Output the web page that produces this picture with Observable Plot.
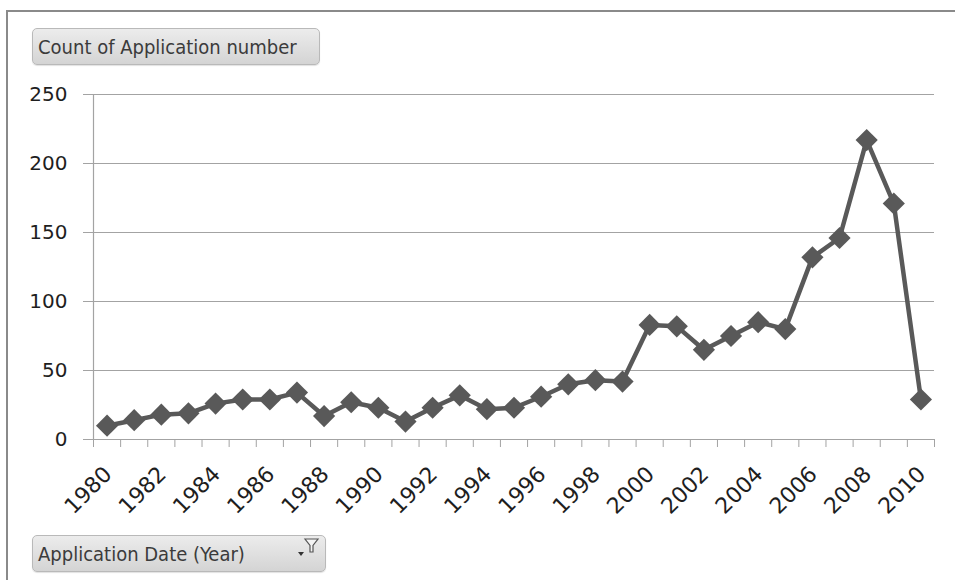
<!DOCTYPE html>
<html>
<head>
<meta charset="utf-8">
<script src="https://cdn.jsdelivr.net/npm/d3@7"></script>
<script src="https://cdn.jsdelivr.net/npm/@observablehq/plot@0.6"></script>
<style>
  html, body { margin: 0; padding: 0; background: #fff; }
  #wrap { position: relative; width: 955px; height: 580px; overflow: hidden; font-family: "DejaVu Sans", sans-serif; }
  #frame { position: absolute; left: 6px; top: 10px; right: -4px; bottom: -4px; border-top: 2px solid #8a8a8a; border-left: 2px solid #8a8a8a; }
  #chart { position: absolute; left: 0; top: 0; }
  .pill {
    position: absolute; box-sizing: border-box; border: 1px solid #b9b9b9; border-radius: 5px;
    background: linear-gradient(#ececec, #d4d4d4); color: #3b3b3b;
    font-family: "DejaVu Sans Condensed", "DejaVu Sans", sans-serif; font-size: 20px;
    padding-left: 5px; display: flex; align-items: center; box-shadow: 0 1px 1px rgba(0,0,0,0.12);
  }
  #valueField { left: 32px; top: 28px; width: 288px; height: 37px; }
  #axisField { left: 32px; top: 535px; width: 294px; height: 37px; }
  #axisField svg { position: absolute; right: 5px; top: 1px; }
</style>
</head>
<body>
<div id="wrap">
  <div id="frame"></div>
  <div id="chart"></div>
  <div class="pill" id="valueField">Count of Application number</div>
  <div class="pill" id="axisField">Application Date (Year)
    <svg width="24" height="22" viewBox="0 0 24 22">
      <path d="M2 15 L8 15 L5 19 Z" fill="#333"/>
      <path d="M9 2 L22 2 L17 8.5 L17 15 L14 15 L14 8.5 Z" fill="#f4f4f4" stroke="#555" stroke-width="1.2"/>
    </svg>
  </div>
</div>
<script>
// Yearly application counts
const years = [1980, 1981, 1982, 1983, 1984, 1985, 1986, 1987, 1988, 1989,
               1990, 1991, 1992, 1993, 1994, 1995, 1996, 1997, 1998, 1999,
               2000, 2001, 2002, 2003, 2004, 2005, 2006, 2007, 2008, 2009, 2010];
const counts = [10, 14, 18, 19, 26, 29, 29, 34, 17, 27,
                23, 13, 23, 32, 22, 23, 31, 40, 43, 42,
                83, 82, 65, 75, 85, 80, 132, 146, 217, 171, 29];
const yTicks = [0, 50, 100, 150, 200, 250];
const labelYears = years.filter(y => y % 2 === 0);

const data = years.map((year, i) => ({year, count: counts[i]}));
// category boundaries between the yearly slots
const boundaries = years.map(y => y - 0.5).concat([years[years.length - 1] + 0.5]);

const ink = "#595959";
const grid = "#a3a3a3";
const textInk = "#1e1e1e";

const chart = Plot.plot({
  width: 955,
  height: 540,
  marginLeft: 93,
  marginRight: 21,
  marginTop: 94,
  marginBottom: 101,
  style: {fontFamily: "DejaVu Sans, sans-serif", fontSize: "20px", color: textInk, background: "none", overflow: "visible"},
  x: {type: "linear", domain: [boundaries[0], boundaries[boundaries.length - 1]]},
  y: {domain: [0, 250]},
  marks: [
    Plot.ruleY(yTicks, {stroke: grid, strokeWidth: 1.2}),
    Plot.ruleX([boundaries[0]], {y1: 0, y2: 250, stroke: grid, strokeWidth: 1.2}),
    // tick marks only; labels are drawn by the text marks below
    Plot.axisY({ticks: yTicks, label: null, tickSize: 10, stroke: grid, strokeOpacity: 1, tickFormat: () => ""}),
    Plot.axisX({ticks: boundaries, label: null, tickSize: 8, stroke: grid, strokeOpacity: 1, tickFormat: () => ""}),
    Plot.text(yTicks, {y: d => d, text: d => String(d), frameAnchor: "left", dx: -26,
                       textAnchor: "end", lineAnchor: "middle", fontSize: 20, fill: textInk}),
    Plot.text(labelYears, {x: d => d, text: d => String(d), frameAnchor: "bottom", dx: -5, dy: 25,
                           rotate: -45, textAnchor: "end", lineAnchor: "top", fontSize: 22, fill: textInk}),
    Plot.line(data, {x: "year", y: "count", stroke: ink, strokeWidth: 4.5, strokeLinejoin: "round"}),
    Plot.dot(data, {x: "year", y: "count", symbol: "diamond2", r: 10, fill: ink, stroke: null})
  ]
});
document.getElementById("chart").appendChild(chart);
</script>
</body>
</html>
